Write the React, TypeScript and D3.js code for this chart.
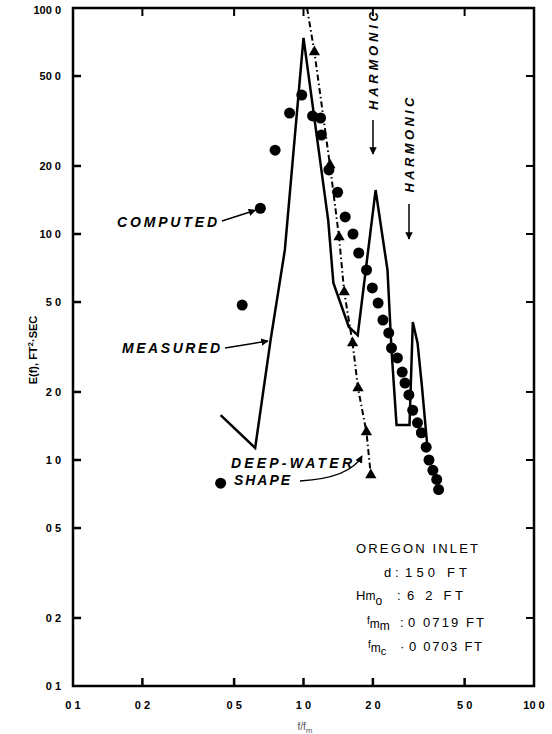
import React from 'react';
import * as d3 from 'd3';

// axis ticks (labels as printed, decimal points lost in the scan)
const xTicks = [0.1, 0.2, 0.5, 1, 2, 5, 10];
const xTickLabels = ['0 1', '0 2', '0 5', '1 0', '2 0', '5 0', '10 0'];
const yTicks = [100, 50, 20, 10, 5, 2, 1, 0.5, 0.2, 0.1];
const yTickLabels = ['100 0', '50 0', '20 0', '10 0', '5 0', '2 0', '1 0', '0 5', '0 2', '0 1'];

// measured spectrum (solid line)
const measuredF = [0.437, 0.617, 0.72, 0.83, 1.0, 1.28, 1.348, 1.573, 1.719, 2.055, 2.314, 2.409, 2.533, 2.884, 2.98, 3.126, 3.267, 3.441];
const measuredE = [1.58, 1.13, 3.4, 8.5, 73.7, 11.5, 6.07, 3.88, 3.57, 15.65, 6.93, 3.07, 1.43, 1.43, 4.08, 3.29, 2.1, 1.165];

// computed spectrum (dots)
const computedF = [0.437, 0.542, 0.65, 0.753, 0.87, 0.983, 1.095, 1.186, 1.195, 1.289, 1.406, 1.517, 1.64, 1.736, 1.877, 1.989, 2.107, 2.211, 2.343, 2.409, 2.555, 2.681, 2.756, 2.866, 2.977, 3.123, 3.247, 3.406, 3.503, 3.642, 3.784, 3.856];
const computedE = [0.79, 4.85, 13.0, 23.5, 34.3, 41.2, 33.3, 32.6, 27.4, 19.2, 15.3, 11.9, 10.0, 8.24, 6.93, 5.77, 4.95, 4.16, 3.65, 3.13, 2.83, 2.45, 2.19, 1.94, 1.66, 1.46, 1.32, 1.14, 1.0, 0.9, 0.82, 0.74];

// deep-water shape (dash-dot with triangles, first point is where it enters the frame)
const deepF = [1.036, 1.115, 1.302, 1.426, 1.502, 1.633, 1.724, 1.875, 1.959];
const deepE = [100, 63.9, 20.2, 9.7, 5.54, 3.29, 2.08, 1.33, 0.858];

const W = 552;
const H = 734;
const font = "'Liberation Sans', Arial, sans-serif";

export default function App() {
  const x = d3.scaleLog().domain([0.1, 10]).range([73, 534]);
  const y = d3.scaleLog().domain([0.1, 100]).range([686, 8]);

  const line = d3.line<[number, number]>().x(d => x(d[0])).y(d => y(d[1]));
  const measured = measuredF.map((f, i) => [f, measuredE[i]] as [number, number]);
  const deep = deepF.map((f, i) => [f, deepE[i]] as [number, number]);

  const tri = d3.symbol().type(d3.symbolTriangle).size(55)();

  const x0 = x(0.1), x1 = x(10), y0 = y(0.1), y1 = y(100);
  const tk = 8;

  return (
    <svg width={W} height={H} style={{ position: 'absolute', left: 0, top: 0, background: '#fff' }}>
      <defs>
        <marker id="ah" viewBox="0 0 10 10" refX="9" refY="5" markerWidth="5" markerHeight="5" orient="auto">
          <path d="M0,0 L10,5 L0,10 z" fill="#000" />
        </marker>
      </defs>

      {/* frame */}
      <rect x={x0} y={y1} width={x1 - x0} height={y0 - y1} fill="none" stroke="#000" strokeWidth={2.5} />

      {/* y ticks */}
      {yTicks.map((t, i) => (
        <g key={'y' + t}>
          {t < 100 && t > 0.1 && (
            <>
              <line x1={x0} x2={x0 + tk} y1={y(t)} y2={y(t)} stroke="#000" strokeWidth={2.5} />
              <line x1={x1} x2={x1 - tk} y1={y(t)} y2={y(t)} stroke="#000" strokeWidth={2} />
            </>
          )}
          <text x={x0 - 12} y={y(t) + (t === 100 ? 6 : 4)} textAnchor="end" fontFamily={font} fontSize={11} fontWeight="bold">
            {yTickLabels[i]}
          </text>
        </g>
      ))}

      {/* x ticks */}
      {xTicks.map((t, i) => (
        <g key={'x' + t}>
          {t > 0.1 && t < 10 && (
            <>
              <line x1={x(t)} x2={x(t)} y1={y0} y2={y0 - tk} stroke="#000" strokeWidth={2.5} />
              <line x1={x(t)} x2={x(t)} y1={y1} y2={y1 + tk} stroke="#000" strokeWidth={2} />
            </>
          )}
          <text x={x(t)} y={y0 + 23} textAnchor="middle" fontFamily={font} fontSize={11} fontWeight="bold">
            {xTickLabels[i]}
          </text>
        </g>
      ))}

      {/* axis titles */}
      <text transform="translate(37,350) rotate(-90)" textAnchor="middle" fontFamily={font} fontSize={11} fontWeight="bold">
        E(f), FT<tspan dy={-4} fontSize={8}>2</tspan><tspan dy={4}>·SEC</tspan>
      </text>
      <text x={305} y={730} textAnchor="middle" fontFamily={font} fontSize={10} fill="#555">
        f/f<tspan dy={3} fontSize={8}>m</tspan>
      </text>

      {/* measured */}
      <path d={line(measured) || ''} fill="none" stroke="#000" strokeWidth={2.5} strokeLinejoin="miter" />

      {/* deep-water shape */}
      <path d={line(deep) || ''} fill="none" stroke="#000" strokeWidth={2} strokeDasharray="6,3,1.5,3" />
      {deep.slice(1).map((d, i) => (
        <path key={'t' + i} d={tri || ''} transform={`translate(${x(d[0])},${y(d[1])})`} fill="#000" />
      ))}

      {/* computed */}
      {computedF.map((f, i) => (
        <circle key={'c' + i} cx={x(f)} cy={y(computedE[i])} r={5.5} fill="#000" />
      ))}

      {/* annotations */}
      <g fontFamily={font} fontSize={14} fontStyle="italic" fontWeight="bold">
        <text x={117} y={227} textLength={100} lengthAdjust="spacing">COMPUTED</text>
        <text x={122} y={353} textLength={98} lengthAdjust="spacing">MEASURED</text>
        <text x={231} y={468} textLength={121} lengthAdjust="spacing">DEEP-WATER</text>
        <text x={234} y={485} textLength={56} lengthAdjust="spacing">SHAPE</text>
      </g>
      <line x1={222} y1={221} x2={x(computedF[2]) - 5} y2={y(computedE[2]) + 2} stroke="#000" strokeWidth={1.5} markerEnd="url(#ah)" />
      <line x1={225} y1={348} x2={268} y2={341} stroke="#000" strokeWidth={1.5} markerEnd="url(#ah)" />
      <path d="M300,481 Q350,478 362,456" fill="none" stroke="#000" strokeWidth={1.5} markerEnd="url(#ah)" />

      <text transform="translate(378,61) rotate(-90)" textAnchor="middle" fontFamily={font} fontSize={13} fontWeight="bold" fontStyle="italic" textLength={98} lengthAdjust="spacing">HARMONIC</text>
      <line x1={373} y1={120} x2={373} y2={154} stroke="#000" strokeWidth={1.5} markerEnd="url(#ah)" />

      <text transform="translate(414,145) rotate(-90)" textAnchor="middle" fontFamily={font} fontSize={13} fontWeight="bold" fontStyle="italic" textLength={95} lengthAdjust="spacing">HARMONIC</text>
      <line x1={409} y1={204} x2={409} y2={239} stroke="#000" strokeWidth={1.5} markerEnd="url(#ah)" />

      {/* site info */}
      <g fontFamily={font} fontSize={13}>
        <text x={417} y={553} textAnchor="middle" textLength={122} lengthAdjust="spacing">OREGON INLET</text>
        <text x={384} y={577}>d</text>
        <text x={395} y={577}>:</text>
        <text x={405} y={577} textLength={62} lengthAdjust="spacing">150 FT</text>
        <text x={356} y={600}>H<tspan fontSize={12}>m</tspan><tspan dy={5} fontSize={12}>o</tspan></text>
        <text x={397} y={600}>:</text>
        <text x={407} y={600} textLength={56} lengthAdjust="spacing">6 2 FT</text>
        <text x={367} y={624} fontSize={10}>f<tspan dy={4} fontSize={12}>m</tspan><tspan dy={2} fontSize={12}>m</tspan></text>
        <text x={400} y={627}>:</text>
        <text x={408} y={627} textLength={76} lengthAdjust="spacing">0 0719 FT</text>
        <text x={368} y={648} fontSize={10}>f<tspan dy={4} fontSize={12}>m</tspan><tspan dy={3} fontSize={11}>c</tspan></text>
        <text x={400} y={651}>·</text>
        <text x={409} y={651} textLength={73} lengthAdjust="spacing">0 0703 FT</text>
      </g>
    </svg>
  );
}
